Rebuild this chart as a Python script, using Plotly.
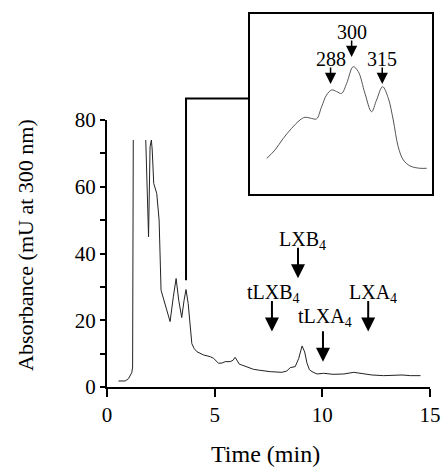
import plotly.graph_objects as go

# ---------------- data ----------------
# Main chromatogram (time in min, absorbance in mU at 300 nm); None = off-scale gap
time_min = [0.53, 0.84, 1.0, 1.15, 1.19, 1.22, None,
            1.80, 1.88, 1.93, 2.00, 2.06, 2.10, 2.17, 2.31, 2.42, 2.51, 2.60, 2.70,
            2.80, 2.93, 3.08, 3.21, 3.33, 3.47, 3.58, 3.67, 3.77, 3.86, 3.94, 4.05,
            4.17, 4.48, 4.79, 4.95, 5.05, 5.18, 5.35, 5.49, 5.72, 5.85, 5.95, 6.05,
            6.15, 6.26, 6.55, 6.80, 7.10, 7.58, 8.12, 8.35, 8.51, 8.74, 8.90, 9.06,
            9.18, 9.29, 9.40, 9.52, 9.75, 10.06, 10.50, 11.00, 11.46, 11.90, 12.30,
            12.85, 13.30, 13.70, 14.10, 14.56]
absorbance = [1.8, 1.8, 2.5, 4.3, 6.0, 74.0, None,
              74.0, 50.0, 45.0, 72.0, 74.0, 71.0, 61.0, 58.0, 50.0, 29.0, 27.0, 25.0,
              22.0, 19.6, 27.0, 32.5, 26.0, 20.8, 26.0, 29.2, 25.0, 18.0, 13.0, 11.5,
              10.6, 9.6, 9.1, 8.6, 8.0, 7.1, 7.2, 7.6, 7.6, 8.0, 8.9, 7.8,
              6.8, 6.6, 5.8, 5.3, 5.0, 4.6, 4.4, 4.8, 5.8, 6.1, 8.5, 12.3,
              10.5, 7.1, 5.2, 4.6, 3.9, 4.1, 3.8, 3.9, 4.4, 3.9, 3.6,
              3.4, 3.5, 3.6, 3.4, 3.4]

# Inset UV spectrum (wavelength nm, relative absorbance)
wavelength_nm = [254.2, 258.5, 262.9, 267.3, 271.7, 274.3, 277.8, 280.4, 283.1,
                 285.7, 288.4, 291.0, 293.6, 296.3, 299.7, 302.4, 305.9, 309.4,
                 312.0, 315.2, 318.2, 320.8, 323.4, 326.1, 329.6, 334.8, 338.4]
spectrum = [19.8, 24.4, 30.9, 36.5, 41.1, 42.6, 42.0, 41.7, 48.5,
            55.0, 57.8, 56.9, 55.9, 61.5, 70.7, 68.0, 55.9, 45.7,
            52.2, 59.6, 53.2, 41.1, 26.3, 18.9, 15.6, 14.3, 14.3]

# Compound markers on chromatogram
marker_labels = ["LXB<sub>4</sub>", "tLXB<sub>4</sub>", "tLXA<sub>4</sub>", "LXA<sub>4</sub>"]
marker_times = [8.87, 7.66, 10.03, 12.13]
marker_tips = [32.6, 16.6, 7.6, 16.6]

# Peak markers on spectrum
peak_labels = ["288", "300", "315"]
peak_nm = [287.8, 298.9, 315.0]
peak_tips = [61.1, 76.1, 61.1]

# Axis ticks
x_tickvals = [0, 5, 10, 15]
x_ticktext = ["0", "5", "10", "15"]
y_tickvals = [0, 10, 20, 30, 40, 50, 60, 70, 80]
y_ticktext = ["0", "", "20", "", "40", "", "60", "", "80"]

connector_time = 3.67
connector_value = 32.0

# ---------------- layout constants ----------------
FONT = "Liberation Serif, Times New Roman, serif"
W, H = 443, 469
ML, MR, MT, MB = 107, 11, 14, 82
PW = W - ML - MR
PH = H - MT - MB
XMAIN_DOM = [0, 323 / PW]
YMAIN_DOM = [0, 267 / PH]
X_RANGE = [0, 15]
Y_RANGE = [0, 80]


def paper_x(t):
    return XMAIN_DOM[0] + (t - X_RANGE[0]) / (X_RANGE[1] - X_RANGE[0]) * (XMAIN_DOM[1] - XMAIN_DOM[0])


def paper_y(v):
    return YMAIN_DOM[0] + (v - Y_RANGE[0]) / (Y_RANGE[1] - Y_RANGE[0]) * (YMAIN_DOM[1] - YMAIN_DOM[0])


fig = go.Figure()
fig.add_trace(go.Scatter(x=time_min, y=absorbance, mode="lines",
                         line=dict(color="#222", width=1.0), connectgaps=False,
                         xaxis="x", yaxis="y", showlegend=False, hoverinfo="skip"))
fig.add_trace(go.Scatter(x=wavelength_nm, y=spectrum, mode="lines",
                         line=dict(color="#555", width=1.0, shape="spline"),
                         xaxis="x2", yaxis="y2", showlegend=False, hoverinfo="skip"))

annotations = []
# chromatogram compound labels and arrows
label_offsets = [(0.2, 11.4), (0.06, 11.5), (0.1, 13.1), (0.24, 11.5)]
for lab, t, v, (dx, dy) in zip(marker_labels, marker_times, marker_tips, label_offsets):
    annotations.append(dict(x=t, y=v, xref="x", yref="y", text="", showarrow=True,
                            ax=0, ay=-32, arrowhead=2, arrowsize=1.4, arrowwidth=2.0,
                            arrowcolor="black"))
    annotations.append(dict(x=t + dx, y=v + dy, xref="x", yref="y", text=lab,
                            showarrow=False, xanchor="center", yanchor="middle",
                            font=dict(family=FONT, size=20, color="black")))
# spectrum peak labels and arrows
for lab, nm, v in zip(peak_labels, peak_nm, peak_tips):
    annotations.append(dict(x=nm, y=v, xref="x2", yref="y2", text="", showarrow=True,
                            ax=0, ay=-18, arrowhead=2, arrowsize=1.5, arrowwidth=1.5,
                            arrowcolor="black"))
    annotations.append(dict(x=nm, y=v + 14, xref="x2", yref="y2", text=lab,
                            showarrow=False, xanchor="center", yanchor="middle",
                            font=dict(family=FONT, size=20, color="black")))
# axis titles
annotations.append(dict(x=(265 - ML) / PW, y=(H - MB - 454) / PH, xref="paper", yref="paper",
                        text="Time (min)", showarrow=False, xanchor="center", yanchor="middle",
                        font=dict(family=FONT, size=24, color="black")))
annotations.append(dict(x=(25 - ML) / PW, y=(H - MB - 245) / PH, xref="paper", yref="paper",
                        text="Absorbance (mU at 300 nm)", showarrow=False, textangle=-90,
                        xanchor="center", yanchor="middle",
                        font=dict(family=FONT, size=22, color="black")))

# connector from peak to inset
inset_left = 0.44
cx = paper_x(connector_time)
y_top = (H - MB - 98.5) / PH
shapes = [dict(type="path", xref="paper", yref="paper",
               path=f"M {cx},{paper_y(connector_value)} L {cx},{y_top} L {inset_left},{y_top}",
               line=dict(color="black", width=2))]

fig.update_layout(
    template="none",
    width=W, height=H, autosize=False,
    margin=dict(l=ML, r=MR, t=MT, b=MB, pad=0, autoexpand=False),
    paper_bgcolor="white", plot_bgcolor="rgba(0,0,0,0)",
    font=dict(family=FONT, color="black"),
    xaxis=dict(domain=XMAIN_DOM, range=X_RANGE, tickvals=x_tickvals, ticktext=x_ticktext,
               showgrid=False, zeroline=False, showline=True, linecolor="black", linewidth=2,
               ticks="outside", ticklen=8, tickwidth=2, tickcolor="black", automargin=False,
               tickfont=dict(family=FONT, size=21, color="black"), anchor="y"),
    yaxis=dict(domain=YMAIN_DOM, range=Y_RANGE, tickvals=y_tickvals, ticktext=y_ticktext,
               showgrid=False, zeroline=False, showline=True, linecolor="black", linewidth=2,
               ticks="outside", ticklen=5, tickwidth=1.5, tickcolor="black", automargin=False,
               tickfont=dict(family=FONT, size=21, color="black"), anchor="x"),
    xaxis2=dict(domain=[inset_left, 1.0], range=[245.4, 341.2], showticklabels=False,
                ticks="", showgrid=False, zeroline=False, showline=True, mirror=True,
                linecolor="black", linewidth=2, anchor="y2", automargin=False),
    yaxis2=dict(domain=[(H - MB - 194) / PH, 1.0], range=[0, 100], showticklabels=False,
                ticks="", showgrid=False, zeroline=False, showline=True, mirror=True,
                linecolor="black", linewidth=2, anchor="x2", automargin=False),
    annotations=annotations,
    shapes=shapes,
)

fig.write_html("out.html", config={"displayModeBar": False},
               post_script="document.body.style.margin='0px';")
